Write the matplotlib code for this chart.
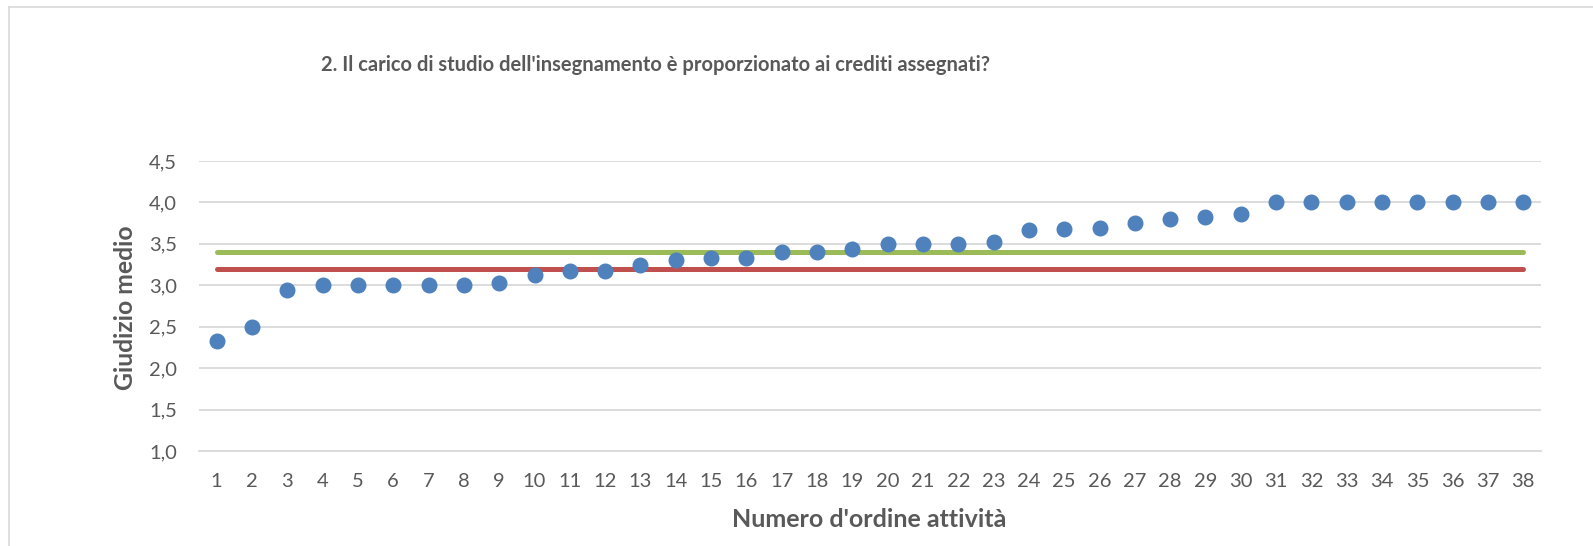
import matplotlib
matplotlib.use("Agg")
import matplotlib.pyplot as plt
from matplotlib.lines import Line2D
import numpy as np

# ---- data ----
categories = [str(i) for i in range(1, 39)]
giudizio_medio = [2.33, 2.50, 2.94, 3.00, 3.00, 3.00, 3.00, 3.00, 3.03, 3.13,
                  3.17, 3.17, 3.25, 3.30, 3.33, 3.33, 3.40, 3.40, 3.44, 3.50,
                  3.50, 3.50, 3.52, 3.67, 3.68, 3.69, 3.75, 3.80, 3.83, 3.86,
                  4.00, 4.00, 4.00, 4.00, 4.00, 4.00, 4.00, 4.00]
media_verde = [3.40] * 38
media_rossa = [3.20] * 38
yticks = [1.0, 1.5, 2.0, 2.5, 3.0, 3.5, 4.0, 4.5]
ytick_labels = ["1,0", "1,5", "2,0", "2,5", "3,0", "3,5", "4,0", "4,5"]
title = "2. Il carico di studio dell'insegnamento è proporzionato ai crediti assegnati?"
xlabel = "Numero d'ordine attività"
ylabel = "Giudizio medio"

W, H, DPI = 1593, 546, 100
FONT = "Lato"
TXT = "#595959"

fig = plt.figure(figsize=(W / DPI, H / DPI), dpi=DPI)
plt.rcParams['font.family'] = [FONT, 'DejaVu Sans']

ax = fig.add_axes([199 / W, 1 - 451 / H, (1541 - 199) / W, (451 - 161) / H])
x = np.arange(len(categories))
ax.plot(x, media_verde, color="#9BBB59", lw=3.6, solid_capstyle="round", zorder=2)
ax.plot(x, media_rossa, color="#C0504D", lw=3.6, solid_capstyle="round", zorder=2)
ax.plot(x, giudizio_medio, "o", color="#4F81BD", ms=10.5, mec="#4F81BD", zorder=3)

ax.set_xlim(-0.5, len(categories) - 0.5)
ax.set_ylim(1.0, 4.5)
ax.set_yticks(yticks)
ax.set_yticklabels(ytick_labels)
ax.set_xticks(x)
ax.set_xticklabels(categories)
ax.yaxis.grid(True, color="#D9D9D9", lw=1.3)
ax.set_axisbelow(True)
for s in ["top", "right", "left"]:
    ax.spines[s].set_visible(False)
ax.spines["bottom"].set_color("#D9D9D9")
ax.spines["bottom"].set_linewidth(1.3)
ax.tick_params(axis="both", length=0, colors=TXT, labelsize=14.5)
ax.tick_params(axis="y", pad=16)
ax.tick_params(axis="x", pad=15.5)

fig.text(655.5 / W, 1 - 71 / H, title, ha="center", va="baseline",
         fontsize=14.5, fontweight="bold", color=TXT)
fig.text(869 / W, 1 - 527 / H, xlabel, ha="center", va="baseline",
         fontsize=18, fontweight="bold", color=TXT)
fig.text(133 / W, 1 - 308 / H, ylabel, ha="center", va="baseline", rotation=90,
         fontsize=17.8, fontweight="bold", color=TXT, rotation_mode="anchor")

# chart area border (left and top)
fig.add_artist(Line2D([8.5 / W, 8.5 / W], [0, 1 - 7 / H], transform=fig.transFigure,
                      color="#D9D9D9", lw=1.2))
fig.add_artist(Line2D([8.5 / W, 1], [1 - 7 / H, 1 - 7 / H], transform=fig.transFigure,
                      color="#D9D9D9", lw=1.2))

fig.savefig("out.png", dpi=DPI)
